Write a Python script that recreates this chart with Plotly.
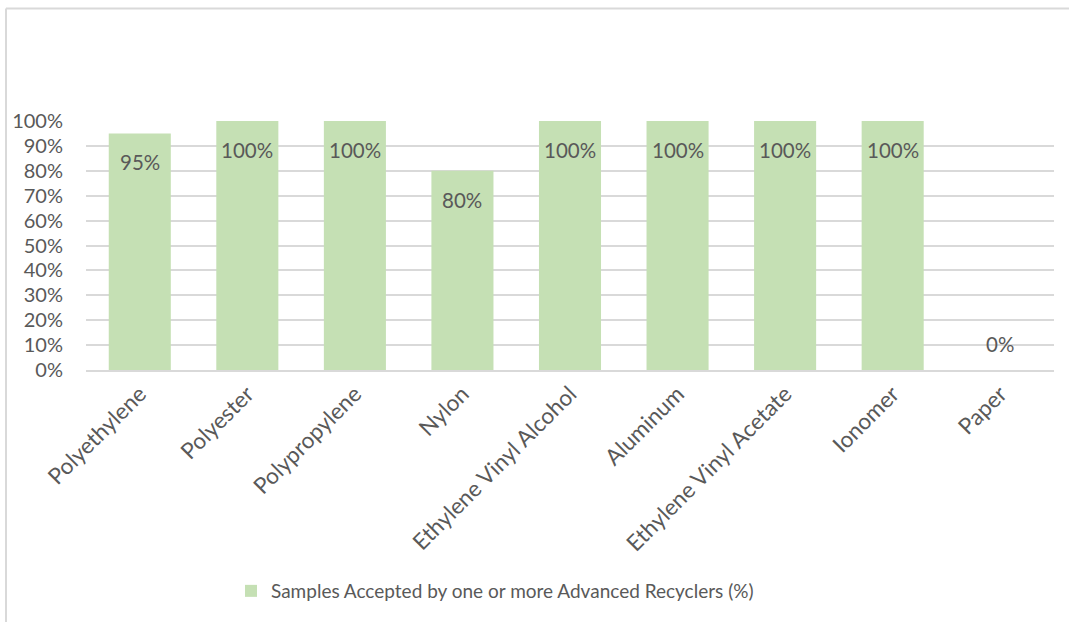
import plotly.graph_objects as go

# Share of samples accepted by one or more advanced recyclers, per material
materials = [
    "Polyethylene", "Polyester", "Polypropylene", "Nylon",
    "Ethylene Vinyl Alcohol", "Aluminum", "Ethylene Vinyl Acetate",
    "Ionomer", "Paper",
]
accepted_share = [0.95, 1.00, 1.00, 0.80, 1.00, 1.00, 1.00, 1.00, 0.00]
series_name = "Samples Accepted by one or more Advanced Recyclers (%)"

BAR_COLOR = "#c5e0b4"
TEXT_COLOR = "#595959"
GRID_COLOR = "#d9d9d9"
FONT = "Lato"

W, H = 1069, 622
L, R, T, B = 86, 15, 121, 252

fig = go.Figure(
    go.Bar(
        x=materials,
        y=accepted_share,
        name=series_name,
        marker=dict(color=BAR_COLOR, line=dict(width=0)),
        showlegend=True,
    )
)

# value labels just inside the top of each bar
for m, v in zip(materials, accepted_share):
    fig.add_annotation(
        x=m, y=v, text=f"{v:.0%}", showarrow=False,
        yanchor="middle", yshift=-29 if v > 0 else 26,
        font=dict(family=FONT, size=20.5, color=TEXT_COLOR),
    )

# chart-area frame (top and left edges)
pw, ph = W - L - R, H - T - B
fx0 = (6 - L) / pw
fy1 = (H - B - 8.5) / ph
fig.add_shape(type="line", xref="paper", yref="paper", x0=fx0, x1=(W + 20 - L) / pw,
              y0=fy1, y1=fy1, line=dict(color=GRID_COLOR, width=2))
fig.add_shape(type="line", xref="paper", yref="paper", x0=fx0, x1=fx0,
              y0=fy1, y1=-(B + 20) / ph, line=dict(color=GRID_COLOR, width=2))

fig.update_layout(
    width=W, height=H,
    margin=dict(l=L, r=R, t=T, b=B),
    paper_bgcolor="white", plot_bgcolor="white",
    bargap=0.423,
    font=dict(family=FONT, size=19, color=TEXT_COLOR),
    legend=dict(
        orientation="h", x=(231 - L) / pw, xanchor="left",
        y=-(591 - (H - B)) / ph, yanchor="middle",
        font=dict(family=FONT, size=19, color=TEXT_COLOR),
    ),
)
fig.update_xaxes(
    tickangle=-45, showgrid=False, showline=True, linecolor=GRID_COLOR, linewidth=2,
    ticks="", tickfont=dict(family=FONT, size=22.5, color=TEXT_COLOR),
)
fig.update_yaxes(
    range=[0, 1.0001], dtick=0.1, tickformat=".0%",
    showgrid=True, gridcolor=GRID_COLOR, gridwidth=2,
    zeroline=False, showline=False, ticks="",
    ticklabelstandoff=22,
    tickfont=dict(family=FONT, size=20, color=TEXT_COLOR),
)

fig.write_html("out.html")
